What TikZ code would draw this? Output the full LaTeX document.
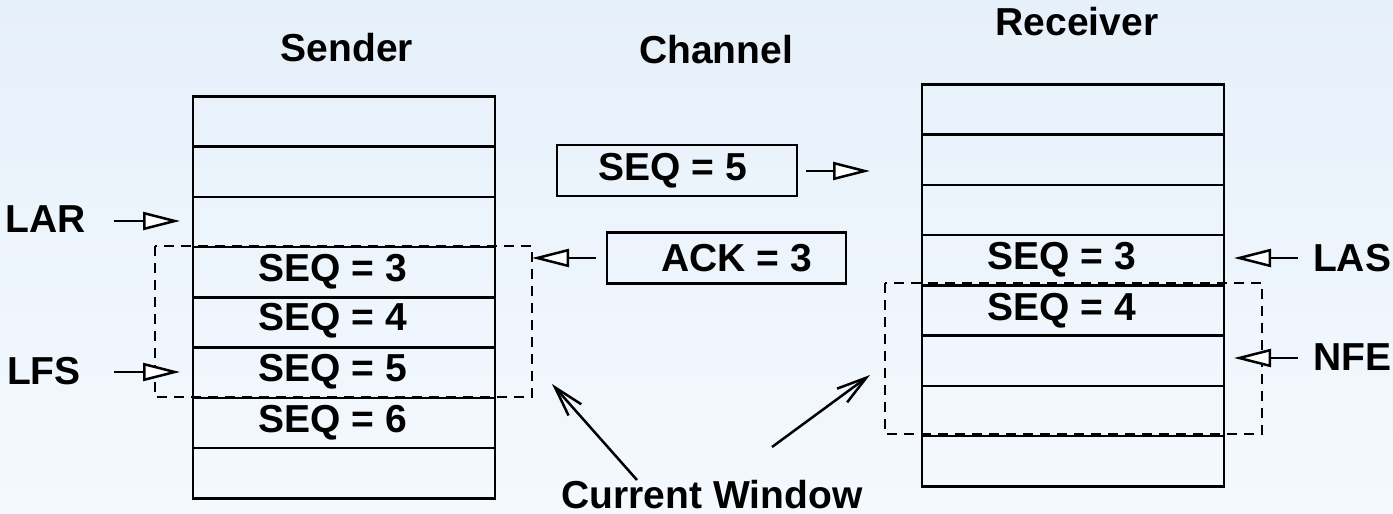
\documentclass[tikz,border=0pt]{standalone}
\usepackage{fontspec}
\setmainfont{Liberation Sans}
\usetikzlibrary{arrows.meta}
\definecolor{bgtop}{RGB}{230,240,250}
\definecolor{bgbot}{RGB}{244,249,254}
\begin{document}
\begin{tikzpicture}[x=1pt,y=-1pt,
  every node/.style={font=\fontsize{39}{42}\selectfont\bfseries, inner sep=0pt},
  row/.style={draw, line width=2.5pt, minimum width=302pt, minimum height=50.25pt, anchor=north},
  cbox/.style={draw, line width=2.5pt, minimum width=240pt, minimum height=51pt},
  tri/.style={line width=2.5pt, -{Triangle[length=37pt,width=18pt,fill=white,line width=2.5pt]}},
  barb/.style={line width=2.5pt, -{Straight Barb[length=30pt,width=17pt,line width=2.5pt]}},
  win/.style={line width=2.5pt, dash pattern=on 10pt off 7pt}]
\useasboundingbox (0,0) rectangle (1393,514);
\shade[top color=bgtop, bottom color=bgbot] (0,0) rectangle (1393,514);

% headers
\node (hs) at (347,48) {Sender};
\node (hc) at (716,50) {Channel};
\node (hr) at (1077,22) {Receiver};

% sender buffer
\foreach \i in {0,...,7} {
  \node[row] (s\i) at (344,{95+\i*50.25}) {};
}
\node (sq3) at ([xshift=-11pt]s3.center) {SEQ = 3};
\node (sq4) at ([xshift=-11pt,yshift=2pt]s4.center) {SEQ = 4};
\node (sq5) at ([xshift=-11pt,yshift=1pt]s5.center) {SEQ = 5};
\node (sq6) at ([xshift=-11pt]s6.center) {SEQ = 6};

% receiver buffer
\foreach \i in {0,...,7} {
  \node[row] (r\i) at (1073,{83+\i*50.25}) {};
}
\node (rq3) at ([xshift=-11pt]r3.center) {SEQ = 3};
\node (rq4) at ([xshift=-11pt]r4.center) {SEQ = 4};

% windows
\draw[win] (155,246) rectangle (532,397);
\draw[win] (885,283) rectangle (1262,434);

% channel boxes
\node[cbox] (seq5) at (677,170.5) {SEQ = 5\hspace*{9pt}};
\node[cbox, minimum width=239pt] (ack) at (726.5,258) {\hspace*{20pt}ACK = 3};

% side labels
\node (lar) at (46,219) {LAR};
\node (lfs) at (44,371) {LFS};
\node (las) at (1352,258) {LAS};
\node (nfe) at (1352,357) {NFE};
\node[anchor=base] (cw) at (712,508) {Current Window};

% arrow end coordinates
\coordinate (larS) at (114,221);  \coordinate (larT) at (180,221);
\coordinate (lfsS) at (114,372);  \coordinate (lfsT) at (180,372);
\coordinate (lasS) at (1298,258); \coordinate (lasT) at (1234,258);
\coordinate (nfeS) at (1298,358); \coordinate (nfeT) at (1234,358);
\coordinate (seqS) at (806,171);  \coordinate (seqT) at (870,171);
\coordinate (ackS) at (596,258);  \coordinate (ackT) at (532,258);
\coordinate (cw1S) at (637,480);  \coordinate (cw1) at (552,384);
\coordinate (cw2S) at (772,447);  \coordinate (cw2) at (870,375);

\draw[tri] (larS) -- (larT);
\draw[tri] (lfsS) -- (lfsT);
\draw[tri] (lasS) -- (lasT);
\draw[tri] (nfeS) -- (nfeT);
\draw[tri] (seqS) -- (seqT);
\draw[tri] (ackS) -- (ackT);
\draw[barb] (cw1S) -- (cw1);
\draw[barb] (cw2S) -- (cw2);
\end{tikzpicture}
\end{document}
